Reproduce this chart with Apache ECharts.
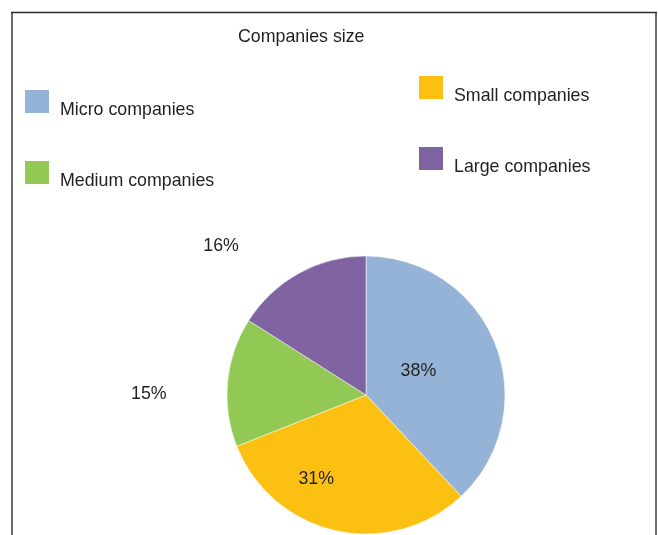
<!DOCTYPE html>
<html>
<head>
<meta charset="utf-8">
<script src="https://cdn.jsdelivr.net/npm/echarts@6/dist/echarts.min.js"></script>
<style>
html,body{margin:0;padding:0;background:#fff;}
#chart{width:658px;height:535px;}
</style>
</head>
<body>
<div id="chart"></div>
<script>
var categories = ['Micro companies', 'Small companies', 'Medium companies', 'Large companies'];
var values = [38, 31, 15, 16];
var colors = ['#95B3D7', '#FCC012', '#92C954', '#8064A2'];
var labelShift = [[-15, 3], [-34, 13], [-145, 6], [-110, -85]];

var chart = echarts.init(document.getElementById('chart'));
var txt = '#231F20';
var font = 'Liberation Sans, Arial, sans-serif';
var fs = 17.8;

function legendCfg(left, top, data) {
  return {
    orient: 'vertical',
    left: left, top: top,
    padding: 0,
    itemWidth: 26, itemHeight: 25,
    itemGap: 40,
    icon: 'rect',
    data: data,
    formatter: '{t|{name}}',
    textStyle: {
      fontFamily: font, fontSize: fs, color: txt,
      rich: { t: { fontFamily: font, fontSize: fs, color: txt, padding: [17, 0, 0, 5] } }
    }
  };
}

chart.setOption({
  backgroundColor: '#ffffff',
  animation: false,
  title: {
    text: 'Companies size',
    left: 238, top: 28,
    padding: 0,
    textStyle: { fontFamily: font, fontSize: fs, fontWeight: 'normal', color: txt }
  },
  graphic: [{
    type: 'line',
    shape: { x1: 12, y1: 12, x2: 12, y2: 540 },
    style: { stroke: '#6e6e6e', lineWidth: 2 },
    silent: true
  }, {
    type: 'line',
    shape: { x1: 656, y1: 12, x2: 656, y2: 540 },
    style: { stroke: '#6e6e6e', lineWidth: 2 },
    silent: true
  }, {
    type: 'line',
    shape: { x1: 11, y1: 12.5, x2: 657, y2: 12.5 },
    style: { stroke: '#2a2a2a', lineWidth: 1.5 },
    silent: true
  }],
  legend: [
    legendCfg(23, 88, [categories[0], categories[2]]),
    legendCfg(417, 74, [categories[1], categories[3]])
  ],
  series: [{
    type: 'pie',
    center: [366, 395],
    radius: [0, 139],
    startAngle: 90,
    clockwise: true,
    avoidLabelOverlap: false,
    itemStyle: { borderColor: '#ffffff', borderWidth: 0.5 },
    label: {
      show: true,
      position: 'inside',
      formatter: '{c}%',
      fontFamily: font, fontSize: fs, color: txt
    },
    labelLine: { show: false },
    labelLayout: function (p) {
      var s = labelShift[p.dataIndex];
      return { dx: s[0], dy: s[1] };
    },
    emphasis: { disabled: true },
    data: categories.map(function (c, i) {
      return { name: c, value: values[i], itemStyle: { color: colors[i] } };
    })
  }]
});
</script>
</body>
</html>
